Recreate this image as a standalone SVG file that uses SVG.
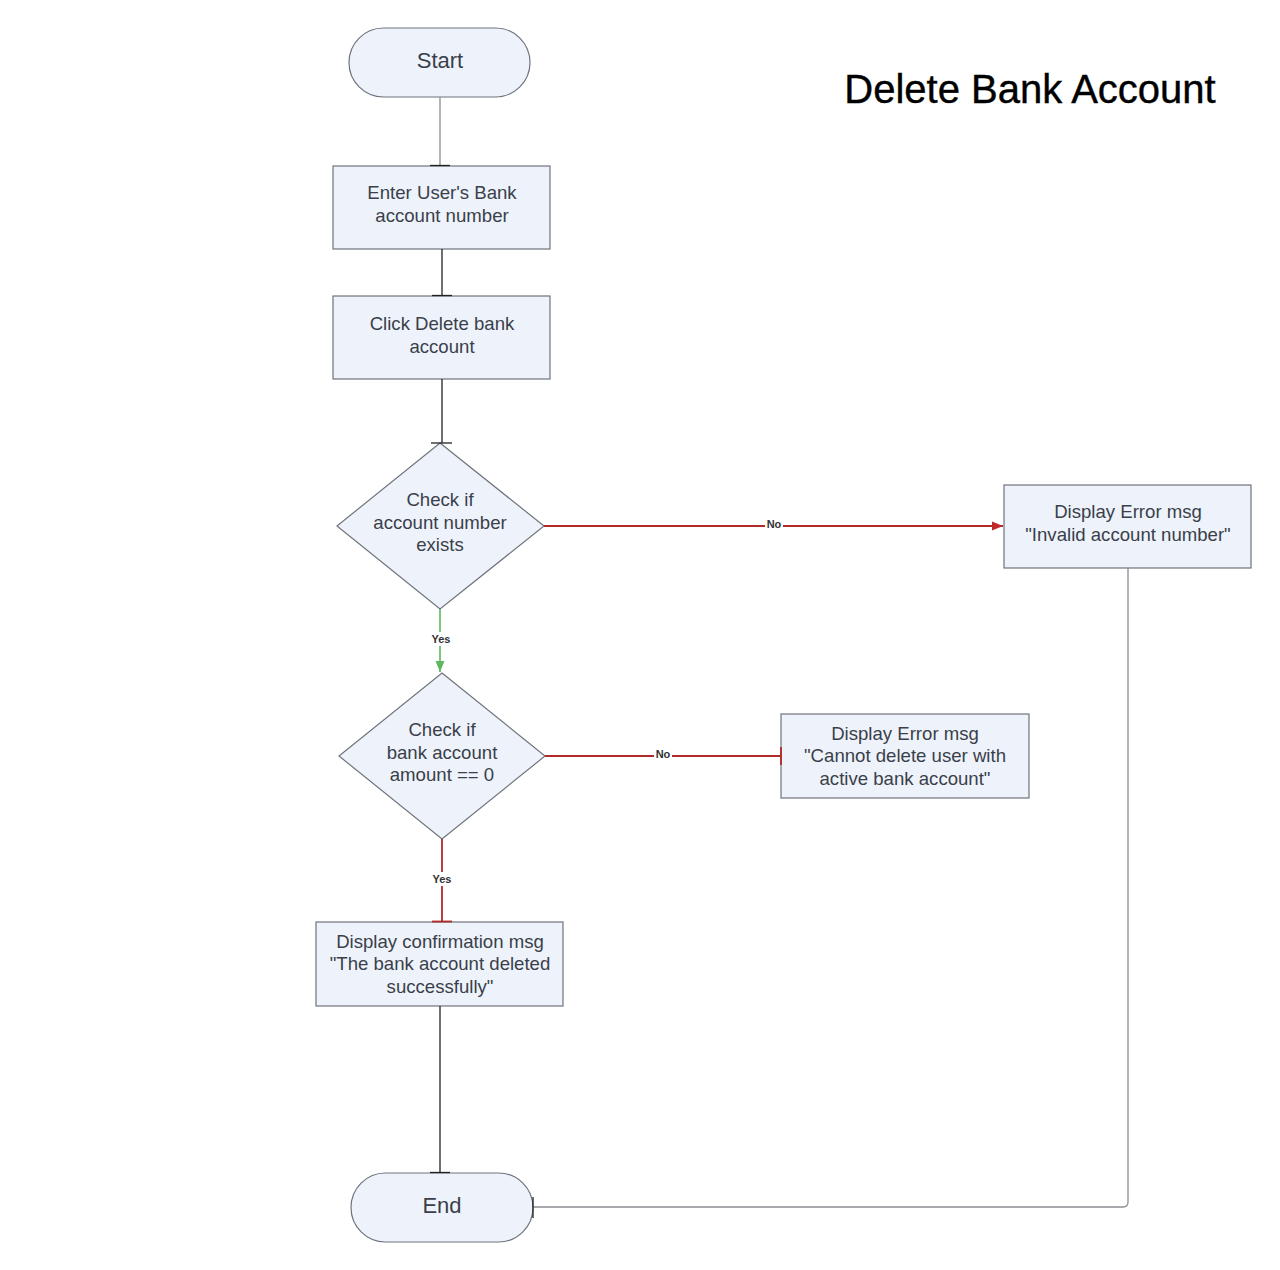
<svg xmlns="http://www.w3.org/2000/svg" width="1280" height="1270" viewBox="0 0 1280 1270">
<defs>
<style>
.shape{fill:#eef3fb;stroke:#6f747c;stroke-width:1.2}
.t{font-family:"Liberation Sans",Arial,sans-serif;font-size:18.6px;fill:#3a3f4a;text-anchor:middle}
.big{font-size:22px}
.lbl{font-family:"Liberation Sans",Arial,sans-serif;font-size:11px;font-weight:bold;fill:#333;text-anchor:middle}
.c{fill:none;stroke-width:1.3}
.blk{stroke:#222}
.gry{stroke:#8a8d92}
.red{stroke:#b02a2a;stroke-width:1.8}
.grn{stroke:#5cb85c;stroke-width:1.6}
</style>
<marker id="ar" viewBox="0 0 10 10" refX="10" refY="5" markerWidth="11" markerHeight="11" markerUnits="userSpaceOnUse" orient="auto"><path d="M0,1 L10,5 L0,9 Z" fill="#c0282a"/></marker>
<marker id="ag" viewBox="0 0 10 10" refX="10" refY="5" markerWidth="11" markerHeight="11" markerUnits="userSpaceOnUse" orient="auto"><path d="M0,1 L10,5 L0,9 Z" fill="#5cb85c"/></marker>
</defs>
<rect width="1280" height="1270" fill="#ffffff"/>
<text x="1030" y="103" font-family="Liberation Sans,Arial,sans-serif" font-size="40" fill="#000" text-anchor="middle" stroke="#000" stroke-width="0.4">Delete Bank Account</text>

<g id="start"><rect class="shape" x="349" y="28" width="181" height="69" rx="34.5"/><text class="t big" x="440" y="68">Start</text></g>
<g id="enter"><rect class="shape" x="333" y="166" width="217" height="83"/><text class="t" x="442" y="199">Enter User's Bank</text><text class="t" x="442" y="222">account number</text></g>
<g id="click"><rect class="shape" x="333" y="296" width="217" height="83"/><text class="t" x="442" y="330">Click Delete bank</text><text class="t" x="442" y="353">account</text></g>
<g id="check1"><path class="shape" d="M440,443 L544,526 L440,609 L337,526 Z"/><text class="t" x="440" y="506">Check if</text><text class="t" x="440" y="529">account number</text><text class="t" x="440" y="551">exists</text></g>
<g id="err1"><rect class="shape" x="1004" y="485" width="247" height="83"/><text class="t" x="1128" y="518">Display Error msg</text><text class="t" x="1128" y="541">"Invalid account number"</text></g>
<g id="check2"><path class="shape" d="M442,673 L545,756 L442,839 L339,756 Z"/><text class="t" x="442" y="736">Check if</text><text class="t" x="442" y="759">bank account</text><text class="t" x="442" y="781">amount == 0</text></g>
<g id="err2"><rect class="shape" x="781" y="714" width="248" height="84"/><text class="t" x="905" y="740">Display Error msg</text><text class="t" x="905" y="762">"Cannot delete user with</text><text class="t" x="905" y="785">active bank account"</text></g>
<g id="confirm"><rect class="shape" x="316" y="922" width="247" height="84"/><text class="t" x="440" y="948">Display confirmation msg</text><text class="t" x="440" y="970">"The bank account deleted</text><text class="t" x="440" y="993">successfully"</text></g>
<g id="end"><rect class="shape" x="351" y="1173" width="182" height="69" rx="34.5"/><text class="t big" x="442" y="1213">End</text></g>

<g id="connectors">
<path class="c gry" d="M440,97 V166"/><path class="c blk" d="M430,165.5 H450"/>
<path class="c blk" d="M442,249 V296"/><path class="c blk" d="M432,295.5 H452"/>
<path class="c blk" d="M442,379 V443"/><path class="c blk" d="M431,443 H452"/>
<path class="c red" d="M544,526 H1003" marker-end="url(#ar)"/>
<rect x="765" y="519" width="18" height="11" fill="#fff"/>
<text class="lbl" x="774" y="528">No</text>
<path class="c grn" d="M440,609 V672" marker-end="url(#ag)"/>
<rect x="428" y="632" width="26" height="14" fill="#fff"/>
<text class="lbl" x="441" y="643">Yes</text>
<path class="c red" d="M545,756 H781"/><path class="c red" d="M781,747 V765"/>
<rect x="654" y="749" width="18" height="11" fill="#fff"/>
<text class="lbl" x="663" y="758">No</text>
<path class="c red" d="M442,839 V922"/><path class="c red" d="M432,921.5 H452"/>
<rect x="429" y="872" width="26" height="14" fill="#fff"/>
<text class="lbl" x="442" y="883">Yes</text>
<path class="c blk" d="M440,1006 V1173"/><path class="c blk" d="M430,1172.5 H450"/>
<path class="c gry" d="M1128,568 V1202 Q1128,1207 1123,1207 H533"/><path class="c blk" d="M533,1197 V1218" stroke-width="2"/>
</g>
</svg>
